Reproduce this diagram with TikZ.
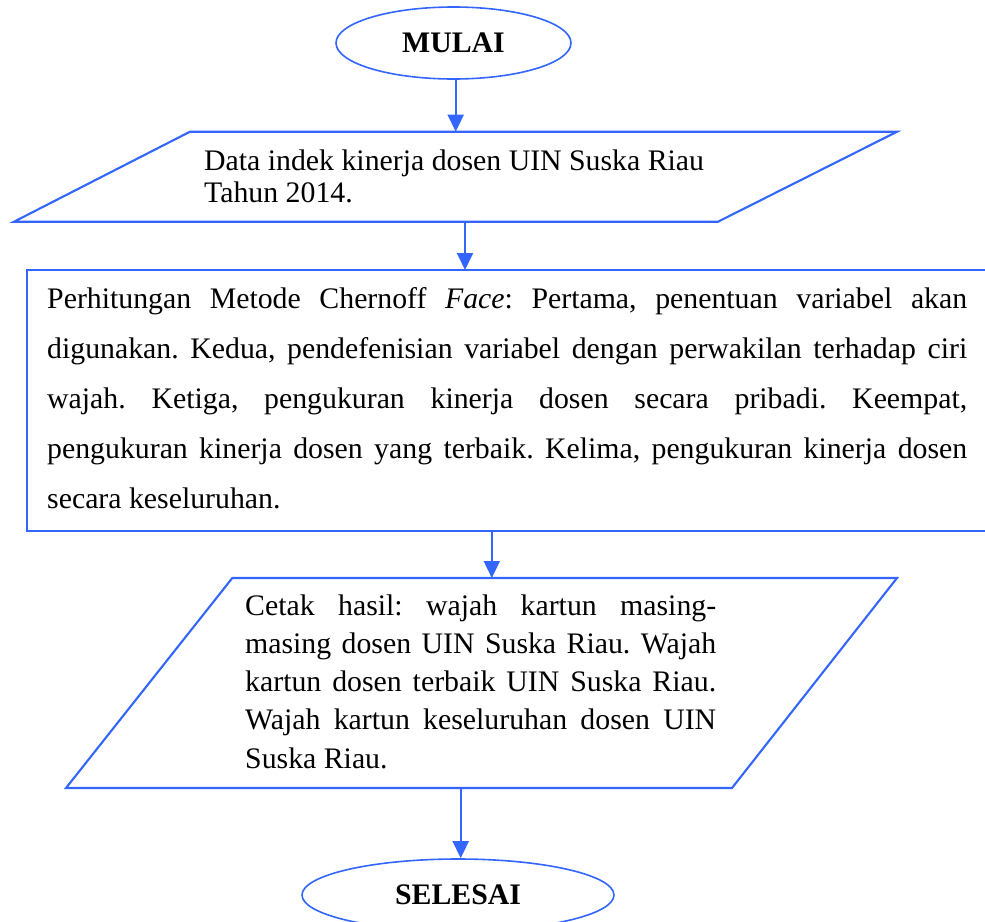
\documentclass[tikz,border=0pt]{standalone}
\usepackage{fontspec}
\setmainfont{Liberation Serif}
\usetikzlibrary{shapes.geometric,arrows.meta}
\definecolor{flowblue}{RGB}{51,102,255}
\frenchspacing
\begin{document}
\begin{tikzpicture}[x=1pt,y=-1pt,
  shapeline/.style={draw=flowblue,line width=2.1pt,line join=miter},
  terminal/.style={ellipse,draw=flowblue,line width=1.6pt,inner sep=0pt,font=\fontsize{29.8}{34}\selectfont\bfseries},
  flowarrow/.style={draw=flowblue,line width=1.8pt,-{Triangle[width=16pt,length=17pt]}},
  bodytext/.style={inner sep=0pt,anchor=north west,align=justify}
]
\useasboundingbox (0,0) rectangle (985,921);
\clip (0,0) rectangle (985,921);

% terminals
\node[terminal,minimum width=235pt,minimum height=72pt] (mulai) at (453.5,43) {MULAI};
\node[terminal,minimum width=312pt,minimum height=72pt] (selesai) at (458,895) {SELESAI};

% input parallelogram
\draw[shapeline] (190,131.7) -- (897,131.7) -- (718,221.7) -- (14,221.7) -- cycle;
\node[inner sep=0pt,anchor=north west,align=left,font=\fontsize{29.8}{32}\selectfont] (data) at (204,147.6)
  {\strut Data indek kinerja dosen UIN Suska Riau\\Tahun 2014.};

% process rectangle
\draw[shapeline] (995,270) -- (27,270) -- (27,531) -- (995,531);
\node[bodytext,text width=920pt,font=\fontsize{29.8}{50}\selectfont] (proses) at (47,273)
  {\noindent\strut Perhitungan Metode Chernoff \textit{Face}: Pertama, penentuan variabel akan\linebreak
   digunakan. Kedua, pendefenisian variabel dengan perwakilan terhadap ciri\linebreak
   wajah. Ketiga, pengukuran kinerja dosen secara pribadi. Keempat,\linebreak
   pengukuran kinerja dosen yang terbaik. Kelima, pengukuran kinerja dosen\linebreak
   secara keseluruhan.};

% output parallelogram
\draw[shapeline] (232.3,578) -- (897,578) -- (732,788) -- (66,788) -- cycle;
\node[bodytext,text width=471pt,font=\fontsize{29.8}{38.25}\selectfont] (hasil) at (245,588.2)
  {\noindent\strut Cetak hasil: wajah kartun masing-\linebreak
   masing dosen UIN Suska Riau. Wajah\linebreak
   kartun dosen terbaik UIN Suska Riau.\linebreak
   Wajah kartun keseluruhan dosen UIN\linebreak
   Suska Riau.};

% connector end points on shape borders
\coordinate (p1top) at (455.7,131.7);
\coordinate (p1bot) at (465,221.7);
\coordinate (rtop) at (465,270);
\coordinate (rbot) at (491.8,531);
\coordinate (p2top) at (491.8,578);
\coordinate (p2bot) at (460.7,788);

\draw[flowarrow] (mulai.south -| p1top) -- (p1top);
\draw[flowarrow] (p1bot) -- (rtop);
\draw[flowarrow] (rbot) -- (p2top);
\draw[flowarrow] (p2bot) -- (p2bot |- selesai.north);
\end{tikzpicture}
\end{document}
